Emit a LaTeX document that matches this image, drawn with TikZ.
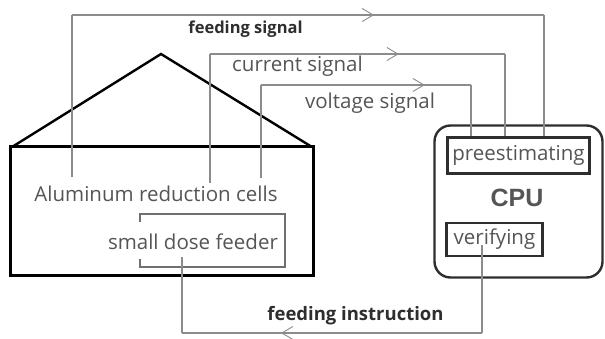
\documentclass[tikz,border=0pt]{standalone}
\usepackage{fontspec}
\setmainfont{Open Sans}
\newfontfamily\cpufont{Liberation Sans}
\usetikzlibrary{arrows.meta,decorations.markings}
\definecolor{sigline}{HTML}{8C8C8C}
\definecolor{txtgray}{HTML}{555555}
\definecolor{dark}{HTML}{2E2E2E}
\tikzset{
  sig/.style={draw=sigline,line width=1.1pt},
  chev/.style={postaction={decorate,decoration={markings,
      mark=at position #1 with {\arrow{Straight Barb[length=11pt,width=13pt,line width=0.9pt]}}}}},
  lbl/.style={text=txtgray,font=\fontsize{20.5}{24}\selectfont,inner sep=0pt},
  blbl/.style={text=dark,font=\bfseries\fontsize{16.5}{19}\selectfont,inner sep=0pt},
  inbox/.style={draw=dark,line width=2.4pt,inner sep=0pt},
}
\begin{document}
\begin{tikzpicture}[x=1pt,y=-1pt]
\useasboundingbox[fill=white] (0,0) rectangle (605,339);
% house
\coordinate (apex) at (161,54);
\coordinate (hl) at (12,147);
\coordinate (hr) at (312,147);
\draw[line width=2.4pt,line join=miter] (hl) -- (apex) -- (hr);
\node[draw=black,line width=3pt,minimum width=303pt,minimum height=128pt,inner sep=0pt] (cell) at (161.5,211) {};
% texts in house
\node[lbl] (alu) at (156,194) {Aluminum reduction cells};
\node[lbl] (sdf) at (193,242) {small dose feeder};
\coordinate (fb1) at (140,222);
\coordinate (fb2) at (140,214);
\coordinate (fb3) at (285,214);
\coordinate (fb4) at (285,267);
\coordinate (fb5) at (140,267);
\coordinate (fb6) at (140,259);
\draw[draw=sigline!80!black,line width=2.4pt] (fb1) -- (fb2) -- (fb3) -- (fb4) -- (fb5) -- (fb6);
% CPU
\node[draw=dark,line width=2.4pt,rounded corners=16pt,minimum width=168pt,minimum height=152pt,inner sep=0pt] (cpu) at (518.5,201.5) {};
\node[inbox,minimum width=142pt,minimum height=36pt,text=txtgray,font=\fontsize{20.5}{24}\selectfont] (pre) at (518.5,155.5) {preestimating};
\node[text=txtgray,font=\cpufont\bfseries\fontsize{25}{28}\selectfont,inner sep=0pt] (cputxt) at (517,198) {CPU};
\node[inbox,minimum width=96pt,minimum height=33pt,text=txtgray,font=\fontsize{20.5}{24}\selectfont] (ver) at (494.5,239.5) {verifying};
% signals
\coordinate (fs0) at (72,177);
\coordinate (fs1) at (72,15);
\coordinate (fs2) at (544,15);
\coordinate (cs0) at (210,183);
\coordinate (cs1) at (210,54);
\coordinate (cs2) at (505,54);
\coordinate (vs0) at (261,178);
\coordinate (vs1) at (261,85);
\coordinate (vs2) at (471,85);
\draw[sig] (fs0) -- (fs1);
\draw[sig,chev=0.64] (fs1) -- (fs2);
\draw[sig] (fs2) -- (fs2 |- pre.north);
\draw[sig] (cs0) -- (cs1);
\draw[sig,chev=0.64] (cs1) -- (cs2);
\draw[sig] (cs2) -- (cs2 |- pre.north);
\draw[sig] (vs0) -- (vs1);
\draw[sig,chev=0.78] (vs1) -- (vs2);
\draw[sig] (vs2) -- (vs2 |- pre.north);
\node[blbl] (fslbl) at (245.5,29) {feeding signal};
\node[lbl] (cslbl) at (297.5,66) {current signal};
\node[lbl] (vslbl) at (370,103) {voltage signal};
% feeding instruction
\coordinate (fi0) at (482,245);
\coordinate (fi1) at (482,333);
\coordinate (fi2) at (182,333);
\coordinate (fi3) at (182,257);
\draw[sig] (fi0) -- (fi1);
\draw[sig,chev=0.67] (fi1) -- (fi2);
\draw[sig] (fi2) -- (fi3);
\node[blbl,font=\bfseries\fontsize{18.5}{21}\selectfont] (filbl) at (355.5,316) {feeding instruction};
\end{tikzpicture}
\end{document}
